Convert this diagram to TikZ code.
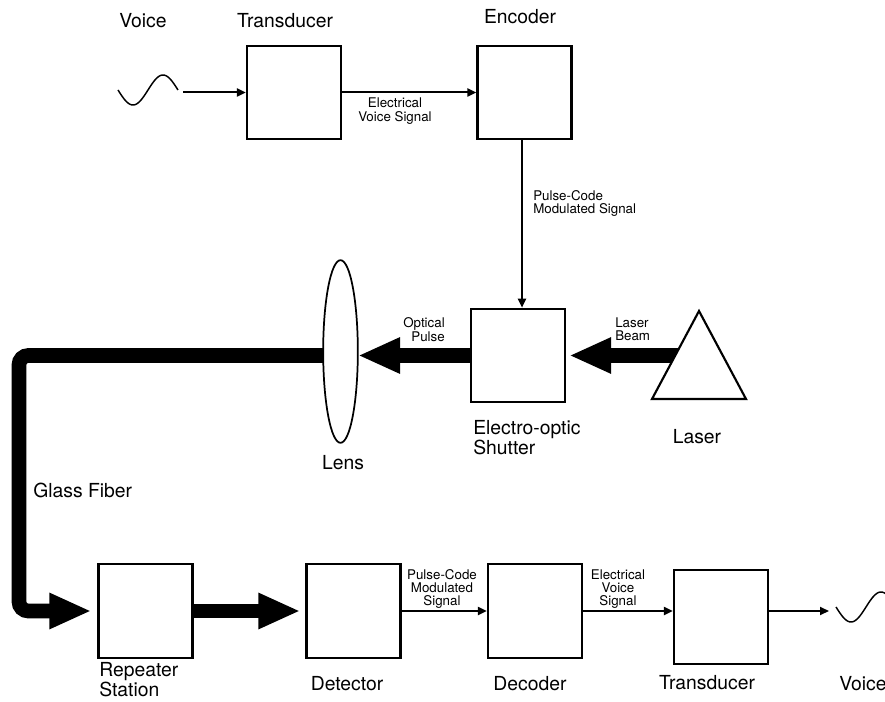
\documentclass[tikz,border=0pt]{standalone}
\usepackage{fontspec}
\setmainfont{TeX Gyre Heros}
\usetikzlibrary{arrows.meta,shapes.geometric}
\begin{document}
\begin{tikzpicture}[x=0.75pt,y=-0.75pt,
  blk/.style={draw, line width=1.7pt, minimum width=70.5pt, minimum height=70pt, inner sep=0pt},
  big/.style={inner sep=0pt, font=\fontsize{14.5}{15}\selectfont},
  small/.style={inner sep=0pt, font=\fontsize{10}{10}\selectfont},
  sig/.style={line width=1.5pt, -{Triangle[length=6.75pt,width=6pt]}},
  fat/.style={line width=11pt, -{Triangle[length=31.5pt,width=25pt]}},
  sinew/.style={line width=1.1pt},
]
\useasboundingbox (0,0) rectangle (885,702);

% blocks
\node[blk] (T1) at (294,92.5) {};
\node[blk] (E)  at (524.5,92.5) {};
\node[blk] (S)  at (518,355.5) {};
\node[blk] (R)  at (145.5,611) {};
\node[blk] (D)  at (353.5,611) {};
\node[blk] (C)  at (535,611) {};
\node[blk] (T2) at (721,617) {};

% helper coordinates
\coordinate (v1out) at (183,92.5);
\coordinate (v2in) at (829,611);
\coordinate (pcmx) at (522,0);
\coordinate (beam) at (678,355.5);
\coordinate (fc1) at (19,355.5);
\coordinate (fc2) at (19,611);

% voice waves
\draw[sinew] plot[domain=0:360, samples=50] ({118+\x/6},{90+15*sin(\x)});
\begin{scope}
\clip (0,0) rectangle (885,702);
\draw[sinew] plot[domain=0:360, samples=50] ({836+\x/6},{607+15*sin(\x)});
\end{scope}

% thick optical paths
\draw[fat, rounded corners=7pt, shorten >=4.5pt] (S.west -| 323,0) -- (fc1) -- (fc2) -- (R.west);
\draw[fat] (S.west) -- (358,355.5);
\draw[fat, shorten >=2.25pt] (beam) -- (S.east);
\draw[fat, shorten >=3.75pt] (R.east) -- (D.west);

% lens and laser
\node[draw, ellipse, line width=1.3pt, fill=white, minimum width=26pt, minimum height=137pt, inner sep=0pt] (lens) at (340.5,351.5) {};
\draw[line width=1.6pt, fill=white] (699,311) -- (652,399) -- (746,399) -- cycle;

% thin signal arrows
\draw[sig] (v1out) -- (T1.west);
\draw[sig] (T1.east) -- (E.west);
\draw[sig] (E.south -| pcmx) -- (S.north -| pcmx);
\draw[sig] (D.east) -- (C.west);
\draw[sig] (C.east) -- (C.east -| T2.west);
\draw[sig] (T2.east |- C.east) -- (v2in);

% labels
\node[big] (lV1) at (143,21) {Voice};
\node[big] (lT1) at (285,21) {Transducer};
\node[big] (lE) at (520,17) {Encoder};
\node[small, align=center] (lEVS1) at (395,111) {Electrical\\Voice Signal};
\node[small, align=left, anchor=west] (lPCM1) at (533,203.5) {Pulse-Code\\Modulated Signal};
\node[small, align=right, anchor=east] (lOP) at (445,329.5) {Optical\\Pulse};
\node[small, align=left, anchor=west] (lLB) at (615,329.5) {Laser\\Beam};
\node[big, align=left, anchor=west] (lS) at (473,438) {Electro-optic\\Shutter};
\node[big] (lL) at (697,437) {Laser};
\node[big] (lLens) at (343,463) {Lens};
\node[big, anchor=west] (lGF) at (33,490) {Glass Fiber};
\node[big, align=left, anchor=west] (lR) at (99,680) {Repeater\\Station};
\node[big] (lD) at (347,684) {Detector};
\node[big] (lC) at (530,684) {Decoder};
\node[big] (lT2) at (707,683) {Transducer};
\node[big] (lV2) at (863,684) {Voice};
\node[small, align=center] (lPCM2) at (442,589) {Pulse-Code\\Modulated\\Signal};
\node[small, align=center] (lEVS2) at (618,589) {Electrical\\Voice\\Signal};
\end{tikzpicture}
\end{document}
